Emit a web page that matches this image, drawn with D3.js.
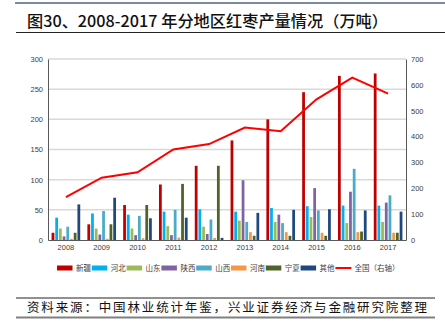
<!DOCTYPE html>
<html><head><meta charset="utf-8">
<script src="https://cdn.jsdelivr.net/npm/d3@7/dist/d3.min.js"></script>
<style>
html,body{margin:0;padding:0;background:#fff;}
svg{display:block;}
</style></head>
<body><svg id="c" width="445" height="332"></svg>
<script>
const years = ["2008","2009","2010","2011","2012","2013","2014","2015","2016","2017"];
const seriesNames = ["新疆","河北","山东","陕西","山西","河南","宁夏","其他"];
const xinjiang = [12, 26, 58, 92, 123, 165, 200, 245, 272, 276];
const hebei    = [37, 44, 42, 47, 51, 47, 53, 56, 57, 57];
const shandong = [19, 19, 19, 23, 22, 32, 30, 38, 28, 30];
const shaanxi  = [6, 9, 8, 8, 10, 99, 42, 86, 80, 62];
const shanxi   = [22, 48, 40, 50, 34, 30, 28, 49, 118, 74];
const henan    = [2, 2, 3, 4, 3.5, 13, 13, 12, 13, 12];
const ningxia  = [12, 26, 58, 93, 123, 7, 7, 7, 14, 12];
const others   = [59, 70, 36, 37, 3.5, 45, 50, 51, 49, 47];
const national = [166, 241, 262, 350, 371, 435, 421, 544, 628, 566];
const leftTicks = [0, 50, 100, 150, 200, 250, 300];
const rightTicks = [0, 100, 200, 300, 400, 500, 600, 700];
const colors = ["#c00000","#00b0f0","#9bbb59","#8064a2","#4bacc6","#f79646","#4f6228","#1f497d"];
const lineColor = "#ff0000";
const lineName = "全国（右轴）";
const title = "图30、2008-2017 年分地区红枣产量情况（万吨）";
const source = "资料来源：中国林业统计年鉴，兴业证券经济与金融研究院整理";

const series = [xinjiang, hebei, shandong, shaanxi, shanxi, henan, ningxia, others];
const svg = d3.select("#c");
const L = 48, R = 406, T = 59, B = 240;
const fontCJK = "'Noto Sans CJK SC','Noto Sans',sans-serif";

// header lines & title
svg.append("line").attr("x1",15).attr("x2",445).attr("y1",3).attr("y2",3).attr("stroke","#7a8aa6").attr("stroke-width",2);
svg.append("text").attr("x",27).attr("y",27).attr("font-family",fontCJK).attr("font-size",15.5).attr("font-weight",500)
  .attr("fill","#111").attr("textLength",361).attr("lengthAdjust","spacingAndGlyphs").text(title);
svg.append("line").attr("x1",16).attr("x2",445).attr("y1",32.5).attr("y2",32.5).attr("stroke","#222").attr("stroke-width",1);

const x0 = d3.scaleBand().domain(years).range([L,R]).paddingInner(0.2).paddingOuter(0.1);
const x1 = d3.scaleBand().domain(d3.range(series.length)).range([0,x0.bandwidth()]).paddingInner(0.25);
const xc = d3.scaleBand().domain(years).range([L,R]);
const yL = d3.scaleLinear().domain([0,300]).range([B,T]);
const yR = d3.scaleLinear().domain([0,700]).range([B,T]);

// gridlines
svg.append("g").selectAll("line").data(leftTicks.filter(d=>d>0)).join("line")
  .attr("x1",L).attr("x2",R).attr("y1",d=>yL(d)).attr("y2",d=>yL(d))
  .attr("stroke","#d9d9d9").attr("stroke-width",1.5);

// axes
const axL = svg.append("g").attr("transform",`translate(${L},0)`)
  .call(d3.axisLeft(yL).tickValues(leftTicks).tickSize(0).tickPadding(5));
const axR = svg.append("g").attr("transform",`translate(${R},0)`)
  .call(d3.axisRight(yR).tickValues(rightTicks).tickSize(0).tickPadding(5));
const axB = svg.append("g").attr("transform",`translate(0,${B})`)
  .call(d3.axisBottom(xc).tickSize(0).tickPadding(5));
[axL,axR,axB].forEach(a=>{
  a.select(".domain").attr("stroke","#595959").attr("stroke-width",1);
  a.selectAll("text").attr("font-family","'Liberation Sans',Arial,sans-serif").attr("font-size",7.5).attr("fill","#404040");
});

// bars
const groups = svg.append("g").selectAll("g").data(years).join("g")
  .attr("transform",d=>`translate(${x0(d)},0)`);
groups.selectAll("rect").data((y,i)=>series.map((s,k)=>({k, v:s[i]}))).join("rect")
  .attr("x",d=>x1(d.k)).attr("width",x1.bandwidth())
  .attr("y",d=>yL(d.v)).attr("height",d=>B-yL(d.v))
  .attr("fill",d=>colors[d.k]);

// line
svg.append("path").datum(national)
  .attr("d",d3.line().x((d,i)=>x0(years[i])+x0.bandwidth()/2).y(d=>yR(d)))
  .attr("fill","none").attr("stroke",lineColor).attr("stroke-width",2);

// redraw bottom axis domain on top
axB.raise();

// legend
const leg = svg.append("g").attr("transform","translate(57,268)");
const items = seriesNames.map((n,i)=>({n, c:colors[i], line:false})).concat([{n:lineName,c:lineColor,line:true}]);
items.forEach((it,i)=>{
  const g = leg.append("g").attr("transform",`translate(${i*34.8},0)`);
  if(it.line) g.append("line").attr("x1",0).attr("x2",16).attr("y1",0).attr("y2",0).attr("stroke",it.c).attr("stroke-width",2);
  else g.append("rect").attr("x",0).attr("y",-2.5).attr("width",15.5).attr("height",5).attr("fill",it.c);
  g.append("text").attr("x",19).attr("y",3).attr("font-family",fontCJK).attr("font-size",7.5).attr("fill","#404040").text(it.n);
});

// source
svg.append("line").attr("x1",16).attr("x2",435).attr("y1",298).attr("y2",298).attr("stroke","#222").attr("stroke-width",1);
svg.append("text").attr("x",27).attr("y",312).attr("font-family",fontCJK).attr("font-size",12.5)
  .attr("fill","#111").attr("textLength",400).attr("lengthAdjust","spacing").text(source);
svg.append("line").attr("x1",16).attr("x2",435).attr("y1",317.5).attr("y2",317.5).attr("stroke","#808080").attr("stroke-width",2);
</script></body></html>
